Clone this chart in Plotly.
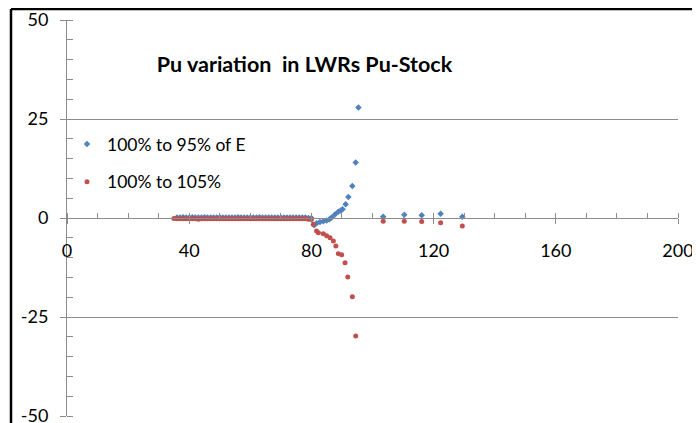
"""Pu variation in LWRs Pu-Stock scatter chart."""
import plotly.graph_objects as go

FONT = "Lato, Carlito, Calibri, sans-serif"
BLUE = "#4F81BD"
RED = "#C0504D"
GRID = "#8C8C8C"

# 100% to 95% of E
blue_x = [36, 37, 38, 39, 40, 41, 42, 43, 44, 45, 46, 47, 48, 49, 50, 51, 52, 53,
          54, 55, 56, 57, 58, 59, 60, 61, 62, 63, 64, 65, 66, 67, 68, 69, 70, 71,
          72, 73, 74, 75, 76, 77, 78, 79, 80,
          80.9, 81.7, 82.8, 83.9, 85.0, 85.9, 86.6, 87.7, 88.8, 89.6, 90.2, 91.2,
          92.1, 93.4, 94.5, 95.4,
          103.5, 110.4, 116.1, 122.3, 129.4]
blue_y = [0.1, 0.1, 0.2, 0.1, 0.1, 0.2, 0.1, 0.1, 0.1, 0.2, 0.1, 0.1, 0.1, 0.1, 0.2,
          0.1, 0.1, 0.1, 0.1, 0.1, 0.2, 0.1, 0.1, 0.1, 0.1, 0.1, 0.1, 0.2, 0.1, 0.1,
          0.1, 0.1, 0.1, 0.1, 0.1, 0.1, 0.1, 0.1, 0.1, 0.1, 0.1, 0.1, 0.1, 0.0, 0.0,
          -1.8, -1.3, -1.0, -0.8, -0.6, -0.3, 0.1, 0.9, 1.6, 1.9, 2.2, 3.5,
          5.3, 8.1, 14.0, 27.9,
          0.3, 0.8, 0.7, 1.1, 0.3]

# 100% to 105%
red_x = [35, 36, 37, 38, 39, 40, 41, 42, 43, 44, 45, 46, 47, 48, 49, 50, 51, 52, 53,
         54, 55, 56, 57, 58, 59, 60, 61, 62, 63, 64, 65, 66, 67, 68, 69, 70, 71,
         72, 73, 74, 75, 76, 77, 78, 79, 80,
         80.6, 81.7, 82.3, 83.9, 85.0, 86.1, 87.2, 88.0, 88.8, 89.9, 91.0, 91.9,
         93.4, 94.5,
         103.5, 110.4, 116.1, 122.3, 129.4]
red_y = [-0.1, -0.2, -0.2, -0.2, -0.2, -0.2, -0.2, -0.2, -0.3, -0.2, -0.2, -0.2,
         -0.2, -0.2, -0.2, -0.2, -0.2, -0.2, -0.2, -0.2, -0.2, -0.2, -0.2, -0.2,
         -0.2, -0.2, -0.2, -0.2, -0.2, -0.2, -0.2, -0.2, -0.2, -0.2, -0.2, -0.2,
         -0.2, -0.2, -0.2, -0.2, -0.2, -0.2, -0.2, -0.2, -0.3, -0.4,
         -1.6, -3.3, -3.7, -4.0, -4.5, -5.0, -5.8, -7.1, -9.0, -9.3, -11.3, -14.9,
         -19.9, -29.8,
         -0.8, -0.8, -0.9, -1.2, -2.0]

y_ticks = [-50, -25, 0, 25, 50]
y_labels = ["-50", "-25", "0", "25", "50"]
x_ticks = [0, 40, 80, 120, 160, 200]
x_labels = ["0", "40", "80", "120", "160", "200"]

fig = go.Figure()
fig.add_trace(go.Scatter(
    x=blue_x, y=blue_y, mode="markers", name="100% to 95% of E",
    legendgroup="a",
    marker=dict(color=BLUE, size=5, symbol="diamond"),
))
fig.add_trace(go.Scatter(
    x=red_x, y=red_y, mode="markers", name="100% to 1\u200b05%",
    legendgroup="b",
    marker=dict(color=RED, size=5, symbol="circle"),
))

# the page body adds an 8px offset, so margins are set 8px smaller top/left
fig.update_layout(
    width=700, height=423,
    margin=dict(l=59, r=30, t=12, b=15, autoexpand=False),
    paper_bgcolor="white", plot_bgcolor="white",
    font=dict(family=FONT, size=15, color="black"),
    title=dict(
        text="<b>Pu variation\u00a0 in LWRs Pu-Stock</b>",
        x=296.5 / 700, xanchor="center",
        y=1 - 56 / 423, yanchor="middle",
        font=dict(family=FONT, size=21.5, color="black"),
    ),
    legend=dict(
        x=0.0, y=(408 - 118) / 396,
        xanchor="left", yanchor="top",
        bgcolor="rgba(0,0,0,0)",
        font=dict(family=FONT, size=17.5, color="black"),
        tracegroupgap=12, itemwidth=30,
    ),
    xaxis=dict(
        range=[0, 200], anchor="free", position=0.5, automargin=False,
        showgrid=False, zeroline=False,
        showline=True, linecolor=GRID, linewidth=1,
        tickmode="array", tickvals=x_ticks, ticktext=x_labels,
        ticks="outside", ticklen=5, tickcolor=GRID, ticklabelstandoff=11,
        minor=dict(tick0=0, dtick=10, ticks="inside", ticklen=5, tickcolor=GRID),
        tickfont=dict(family=FONT, size=18, color="black"),
    ),
    xaxis2=dict(
        range=[0, 200], overlaying="x", anchor="free", position=0.5,
        automargin=False, showgrid=False, zeroline=False, showticklabels=False,
        tickmode="array", tickvals=x_ticks,
        ticks="inside", ticklen=5, tickcolor=GRID,
    ),
    yaxis=dict(
        range=[-50, 50], automargin=False,
        showgrid=True, gridcolor=GRID, gridwidth=1,
        zeroline=False, showline=True, linecolor=GRID, linewidth=1,
        tickmode="array", tickvals=y_ticks, ticktext=y_labels,
        ticks="outside", ticklen=6, tickcolor=GRID, ticklabelstandoff=8,
        minor=dict(tick0=0, dtick=5, ticks="inside", ticklen=6, tickcolor=GRID),
        tickfont=dict(family=FONT, size=18, color="black"),
    ),
    showlegend=True,
)

# outer chart frame (cropped at right and bottom)
fig.add_shape(type="line", xref="paper", yref="paper",
              x0=(11 - 67) / 611, x1=(11 - 67) / 611,
              y0=(416 - 430) / 396, y1=(416 - 9) / 396,
              line=dict(color="black", width=2.5))
fig.add_shape(type="line", xref="paper", yref="paper",
              x0=(11 - 67) / 611, x1=(710 - 67) / 611,
              y0=(416 - 9) / 396, y1=(416 - 9) / 396,
              line=dict(color="black", width=2.5))

fig.write_html("out.html")
